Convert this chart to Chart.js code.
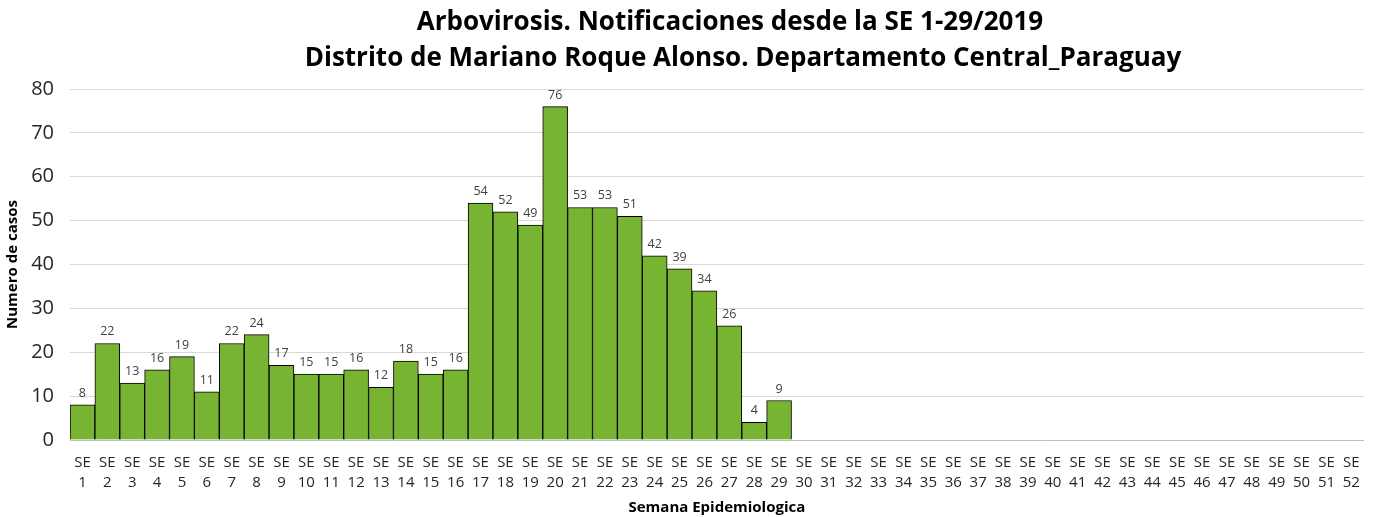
<!DOCTYPE html>
<html>
<head>
<meta charset="utf-8">
<script src="https://cdn.jsdelivr.net/npm/chart.js@4.4.1/dist/chart.umd.min.js"></script>
<style>
html,body{margin:0;padding:0;background:#fff;}
#wrap{width:1373px;height:517px;position:relative;}
</style>
</head>
<body>
<div id="wrap"><canvas id="c" width="1373" height="517"></canvas></div>
<script>
const titleLines = ["Arbovirosis. Notificaciones desde la SE 1-29/2019", "Distrito de Mariano Roque Alonso. Departamento Central_Paraguay"];
const weeks = Array.from({length: 52}, (_, i) => i + 1);
const categories = weeks.map(w => ["SE", String(w)]);
const casos = [8,22,13,16,19,11,22,24,17,15,15,16,12,18,15,16,54,52,49,76,53,53,51,42,39,34,26,4,9,
  null,null,null,null,null,null,null,null,null,null,null,null,null,null,null,null,null,null,null,null,null,null,null];
const yTicks = [0,10,20,30,40,50,60,70,80];
const yTitle = "Numero de casos";
const xTitle = "Semana Epidemiologica";

const FONT = "'Open Sans', 'Noto Sans', sans-serif";

const labelPlugin = {
  id: 'barLabels',
  afterDatasetsDraw(chart) {
    const ctx = chart.ctx;
    const meta = chart.getDatasetMeta(0);
    ctx.save();
    ctx.font = "12.5px " + FONT;
    ctx.fillStyle = "#404040";
    ctx.textAlign = "center";
    ctx.textBaseline = "alphabetic";
    meta.data.forEach((el, i) => {
      const v = chart.data.datasets[0].data[i];
      if (v === null || v === undefined) return;
      ctx.fillText(String(v), el.x, el.y - 8);
    });
    ctx.restore();
  }
};

const titlePlugin = {
  id: 'customTitle',
  afterDraw(chart) {
    const ctx = chart.ctx;
    ctx.save();
    ctx.font = "bold 26px " + FONT;
    ctx.fillStyle = "#000";
    ctx.textAlign = "center";
    ctx.textBaseline = "alphabetic";
    ctx.fillText(titleLines[0], 730, 30);
    ctx.fillText(titleLines[1], 743, 66);
    ctx.restore();
  }
};

new Chart(document.getElementById('c'), {
  type: 'bar',
  data: {
    labels: categories,
    datasets: [{
      data: casos,
      backgroundColor: '#76B431',
      borderColor: '#000000',
      borderWidth: 1,
      categoryPercentage: 1.0,
      barPercentage: 1.0
    }]
  },
  options: {
    responsive: false,
    animation: false,
    devicePixelRatio: 1,
    layout: { padding: { top: 89, right: 8, left: 0, bottom: 0 } },
    plugins: {
      legend: { display: false },
      title: { display: false },
      tooltip: { enabled: false }
    },
    scales: {
      y: {
        min: 0, max: 80,
        afterBuildTicks: (scale) => { scale.ticks = yTicks.map(v => ({value: v})); },
        afterFit: (scale) => { scale.width = 70; },
        grid: { color: '#d9d9d9', drawTicks: false, lineWidth: 1 },
        border: { display: false },
        ticks: { font: { size: 20, family: FONT }, color: '#262626', padding: 16 },
        title: { display: true, text: yTitle, font: { size: 15, weight: 'bold', family: FONT }, color: '#000', padding: { top: 4, bottom: 0 } }
      },
      x: {
        afterFit: (scale) => { scale.height = 77; },
        grid: { display: false, drawTicks: false },
        border: { display: true, color: '#bfbfbf', width: 1 },
        ticks: { font: { size: 15, family: FONT, lineHeight: 1.3 }, color: '#262626', padding: 13, maxRotation: 0, autoSkip: false },
        title: { display: true, text: xTitle, font: { size: 15, weight: 'bold', family: FONT }, color: '#000', padding: { top: 0, bottom: 0 } }
      }
    }
  },
  plugins: [labelPlugin, titlePlugin]
});
</script>
</body>
</html>
